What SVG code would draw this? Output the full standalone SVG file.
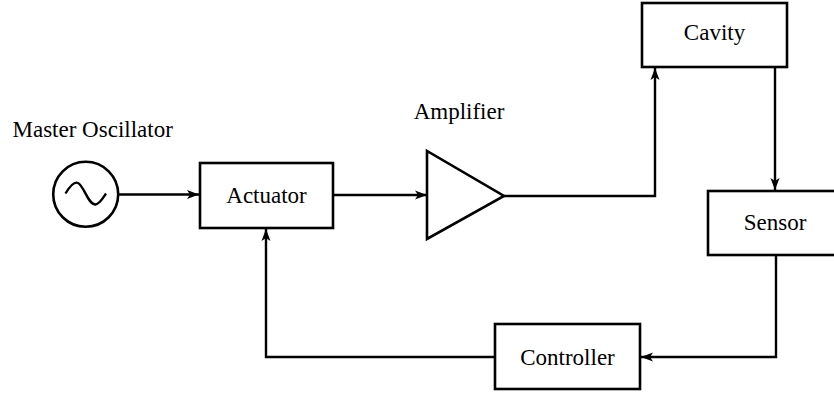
<svg xmlns="http://www.w3.org/2000/svg" width="834" height="394" viewBox="0 0 834 394">
<style>
.box{fill:#fff;stroke:#000;stroke-width:2.6}
.ln{fill:none;stroke:#000;stroke-width:2.4}
text{font-family:"Liberation Serif","Times New Roman",serif;font-size:23px;fill:#000}
.c{text-anchor:middle}
</style>
<defs>
<marker id="ah" viewBox="0 0 12 10" refX="12" refY="5" markerWidth="12" markerHeight="10" markerUnits="userSpaceOnUse" orient="auto">
<path d="M0,0.5 L12,5 L0,9.5 L3,5 Z" fill="#000"/>
</marker>
</defs>
<rect width="834" height="394" fill="#fff"/>
<g id="connectors">
<path class="ln" d="M118,194.5 H199" marker-end="url(#ah)"/>
<path class="ln" d="M333,195 H427" marker-end="url(#ah)"/>
<path class="ln" d="M504,196 H655 V68" marker-end="url(#ah)"/>
<path class="ln" d="M775,67 V190" marker-end="url(#ah)"/>
<path class="ln" d="M776,255 V357 H641" marker-end="url(#ah)"/>
<path class="ln" d="M495,357 H266 V229" marker-end="url(#ah)"/>
</g>
<g id="oscillator">
<circle cx="85.7" cy="194.3" r="32.5" class="box"/>
<path class="ln" d="M65.5,193.5 C70,186 74,181 78,183 C84,186 88,204 95,204.5 C99,205 103,198 106,193.5"/>
<text x="12.5" y="136.5">Master Oscillator</text>
</g>
<g id="actuator">
<rect class="box" x="200" y="163" width="133" height="65"/>
<text class="c" x="266.5" y="203">Actuator</text>
</g>
<g id="amplifier">
<polygon class="box" points="427,151 427,239 504,196"/>
<text class="c" x="459" y="119">Amplifier</text>
</g>
<g id="cavity">
<rect class="box" x="642" y="3" width="145" height="64"/>
<text class="c" x="714.5" y="40">Cavity</text>
</g>
<g id="sensor">
<rect class="box" x="708" y="191" width="134" height="64"/>
<text class="c" x="775" y="230">Sensor</text>
</g>
<g id="controller">
<rect class="box" x="495" y="324" width="145" height="65"/>
<text class="c" x="567.5" y="365">Controller</text>
</g>
</svg>
